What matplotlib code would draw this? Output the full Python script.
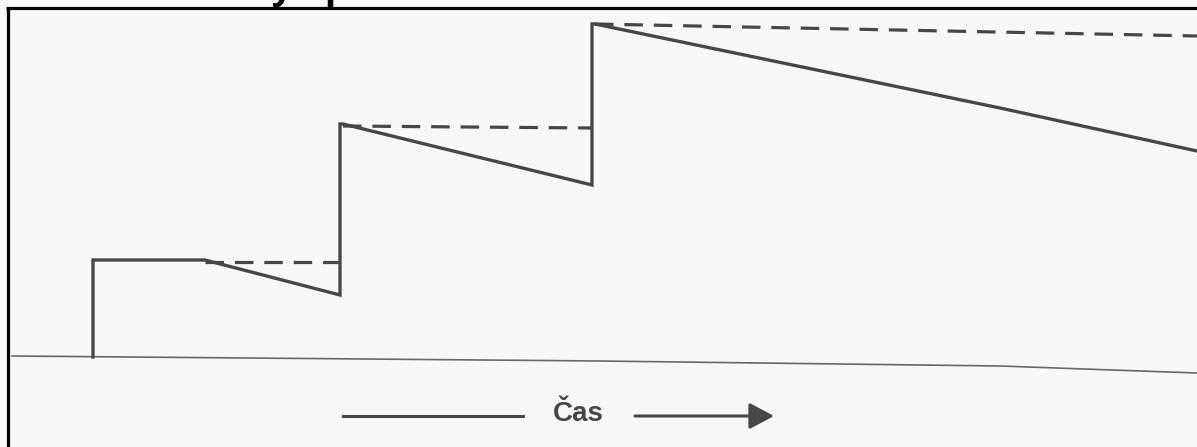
import matplotlib.pyplot as plt

# Solid curve: time (x) and level (height above baseline)
solid_time = [93, 93, 205, 340, 340, 343, 592, 592, 595, 1000, 1197]
solid_level = [0, 97, 97, 62, 233, 233, 172, 333, 333, 249, 206]

# Dashed reference segments
dash_segments_time = [[205, 340], [343, 592], [595, 1197]]
dash_segments_level = [[95, 95], [231, 229], [333, 321]]

# Baseline (slightly skewed in the scan)
base_time = [12, 600, 1000, 1197]
base_level = [1, -4, -9, -16]

axis_label = "Čas"

LINE = '#474747'
BG = '#f8f8f8'

fig = plt.figure(figsize=(11.97, 4.47), dpi=100, facecolor=BG)
ax = fig.add_axes([0, 0, 1, 1])
ax.set_facecolor(BG)
ax.set_xlim(0, 1197)
ax.set_ylim(-90, 357)
ax.axis('off')

# frame border (top and left)
ax.plot([6, 1197], [349, 349], color='black', lw=2.3, solid_capstyle='butt')
ax.plot([8, 8], [350.5, -90], color='black', lw=2.3, solid_capstyle='butt')

# cut-off title fragment (cropped at the top in the original scan)
ax.text(271, 358, "y", fontsize=29, fontweight='bold', family='Liberation Sans',
        color='black', ha='left', va='baseline')
ax.text(324, 358, "p", fontsize=29, fontweight='bold', family='Liberation Sans',
        color='black', ha='left', va='baseline')

# baseline
ax.plot(base_time, base_level, color='#6a6a6a', lw=1.2)

# dashed lines
for t, l in zip(dash_segments_time, dash_segments_level):
    ax.plot(t, l, color=LINE, lw=2.3, dashes=(5.8, 3.4))

# solid line
ax.plot(solid_time, solid_level, color=LINE, lw=2.4, solid_joinstyle='miter')

# time axis annotation
ax.plot([343, 523], [-59, -59], color=LINE, lw=2.2)
ax.text(578, -57, axis_label, fontsize=20, fontweight='bold', family='Liberation Sans',
        color=LINE, ha='center', va='center')
ax.annotate('', xy=(774, -59), xytext=(635, -59),
            arrowprops=dict(arrowstyle='-|>,head_length=1.5,head_width=0.8',
                            color=LINE, lw=2.2, shrinkA=0, shrinkB=0,
                            mutation_scale=10))

fig.savefig('out.png', dpi=100, facecolor=BG)
